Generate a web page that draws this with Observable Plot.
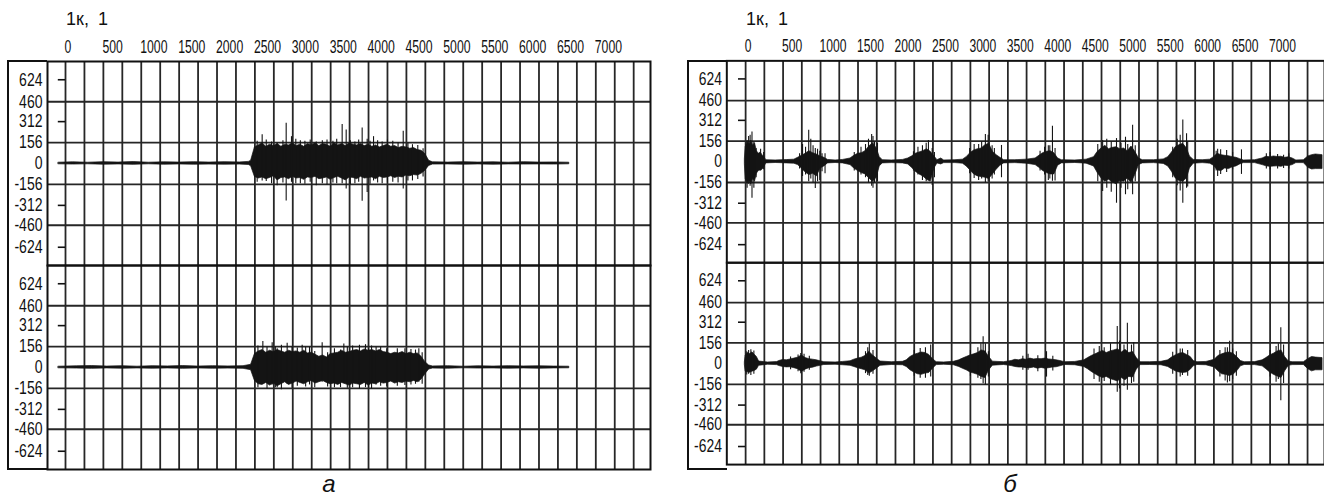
<!DOCTYPE html>
<html><head><meta charset="utf-8">
<script src="https://cdn.jsdelivr.net/npm/d3@7"></script>
<script src="https://cdn.jsdelivr.net/npm/@observablehq/plot@0.6"></script>
<style>
html,body{margin:0;padding:0;width:1324px;height:500px;overflow:hidden;background:#fff;}
#root{position:relative;width:1324px;height:500px;overflow:hidden;}
.panel{position:absolute;top:0;}
.col{position:absolute;top:60px;height:410px;width:40px;border:2px solid #111;border-right:none;box-sizing:border-box;}
.title{position:absolute;top:10px;line-height:18px;font-size:18px;font-family:"Liberation Sans",Arial,sans-serif;color:#111;word-spacing:4px;white-space:nowrap;}
.cap{position:absolute;top:472px;width:40px;text-align:center;font:italic 24px/24px "Liberation Sans",Arial,sans-serif;color:#111;}
</style>
</head><body>
<div id="root"></div>
<script>
// ---- labels / ticks ----
const chartTitle = "1к, 1";
const captions = ["а", "б"];
const xTickLabels = [0,500,1000,1500,2000,2500,3000,3500,4000,4500,5000,5500,6000,6500,7000];
const yTickLabels = [624,460,312,156,0,-156,-312,-460,-624];
const gridX = d3.range(0, 7501, 250);
const gridY = [460,156,-156,-460];
const yMinorTicks = [624,312,-312,-624];
const channels = ["1","2"];

// ---- panel а, channel 1 envelope [x, upper, lower] ----
const a1Env = [
[-90,6,-6],[100,9,-8],[300,6,-6],[500,10,-9],[700,7,-7],[900,11,-10],[1100,6,-6],[1300,9,-9],[1500,7,-7],[1700,10,-9],[1900,7,-8],[2100,10,-9],[2300,8,-8],[2420,12,-11],
[2450,20,-20],[2500,120,-100],[2550,135,-112],[2600,150,-104],[2650,125,-117],[2700,140,-108],[2750,130,-95],[2800,145,-126],[2850,125,-108],[2900,140,-104],[2950,135,-117],[3000,150,-99],[3050,130,-112],[3100,140,-108],[3150,125,-122],[3200,145,-104],[3250,135,-108],[3300,150,-99],[3350,130,-117],[3400,145,-112],[3450,140,-104],[3500,125,-122],[3550,150,-108],[3600,135,-99],[3650,145,-112],[3700,130,-126],[3750,150,-104],[3800,140,-108],[3850,135,-117],[3900,145,-99],[3950,130,-112],[4000,140,-108],[4050,125,-104],[4100,135,-117],[4150,120,-99],[4200,130,-108],[4250,140,-104],[4300,125,-95],[4350,130,-108],[4400,115,-99],[4450,125,-104],[4500,120,-90],[4550,110,-95],[4600,115,-86],[4650,100,-90],[4700,95,-77],[4750,70,-54],[4800,20,-18],
[4850,9,-8],[5050,7,-7],[5250,10,-9],[5450,7,-7],[5650,9,-9],[5850,6,-7],[6050,10,-8],[6250,7,-7],[6450,8,-8],[6650,6,-6]
];
const a1Spikes = [[2596,215,-130],[2794,150,-165],[2913,300,-280],[2983,200,-140],[3100,170,-150],[3452,175,-160],[3652,290,-150],[3705,250,-190],[3916,265,-281],[3982,180,-216],[4066,200,-130],[4250,175,-145],[4458,240,-190],
[2530,165,-140],[2650,175,-135],[2720,160,-150],[2870,170,-145],[3040,180,-150],[3160,165,-155],[3230,175,-140],[3310,160,-165],[3390,170,-150],[3530,165,-145],[3580,180,-150],[3760,170,-160],[3820,160,-150],[3870,175,-140],[4020,165,-155],[4120,170,-145],[4180,160,-150],[4320,165,-140],[4390,155,-145],[4520,150,-130],[4580,140,-130],[4650,135,-120],[4720,110,-100]];

// ---- panel а, channel 2 ----
const a2Env = [
[-90,6,-6],[150,9,-8],[350,11,-10],[550,7,-7],[750,10,-9],[950,6,-7],[1150,10,-9],[1350,8,-7],[1550,11,-10],[1750,7,-7],[1950,10,-9],[2150,8,-8],[2350,10,-10],
[2450,20,-20],[2500,100,-100],[2550,120,-125],[2600,130,-130],[2650,110,-115],[2700,125,-135],[2750,115,-120],[2800,130,-140],[2850,120,-125],[2900,110,-110],[2950,125,-130],[3000,115,-120],[3050,120,-105],[3100,110,-115],[3150,125,-125],[3200,105,-110],[3250,110,-100],[3300,95,-120],[3350,80,-110],[3400,90,-100],[3450,75,-115],[3500,100,-125],[3550,105,-120],[3600,110,-130],[3650,125,-115],[3700,110,-125],[3750,115,-135],[3800,125,-120],[3850,130,-125],[3900,120,-130],[3950,135,-115],[4000,125,-135],[4050,130,-120],[4100,120,-125],[4150,130,-110],[4200,115,-120],[4250,110,-115],[4300,100,-105],[4350,110,-120],[4400,105,-110],[4450,115,-115],[4500,100,-105],[4550,110,-110],[4600,100,-100],[4650,105,-110],[4700,80,-90],[4750,40,-50],[4800,15,-15],
[4850,8,-8],[5050,10,-9],[5250,6,-6],[5450,9,-8],[5650,7,-7],[5850,10,-9],[6050,8,-7],[6250,9,-9],[6450,7,-7],[6650,6,-6]
];
const a2Spikes = [[2605,194,-120],[2728,185,-130],[2794,140,-150],[2926,180,-125],[3124,165,-120],[3221,150,-130],[3388,185,-110],[3630,130,-150],[3674,175,-120],[4000,140,-150],[4100,150,-130],[4664,140,-110],[4708,110,-125],
[2540,160,-150],[2660,150,-160],[2770,155,-150],[2850,165,-165],[2990,150,-155],[3060,145,-140],[3170,150,-145],[3290,120,-150],[3460,110,-145],[3550,140,-150],[3720,150,-155],[3790,160,-150],[3880,165,-160],[3960,170,-150],[4040,160,-160],[4160,150,-140],[4240,140,-145],[4380,140,-140],[4480,140,-135],[4560,135,-130],[4620,130,-125]];

// ---- panel б, channel 1 ----
const b1Env = [
[-10,20,-20],[0,110,-130],[25,150,-160],[50,130,-145],[75,160,-170],[100,120,-130],[125,140,-150],[150,80,-90],[175,60,-70],[200,70,-65],[225,50,-60],[250,35,-40],[275,12,-12],
[400,10,-9],[550,13,-12],[650,16,-14],
[700,30,-25],[750,45,-50],[800,60,-80],[850,80,-100],[900,65,-90],[950,55,-110],[1000,40,-50],[1050,30,-35],[1100,14,-12],
[1200,10,-9],[1300,14,-12],
[1400,25,-25],[1450,45,-50],[1500,60,-70],[1550,65,-85],[1600,80,-95],[1650,115,-125],[1700,140,-150],[1750,100,-120],[1790,35,-35],[1830,12,-12],
[1950,10,-10],[2100,14,-12],
[2170,25,-20],[2220,40,-45],[2270,60,-75],[2320,70,-95],[2370,80,-110],[2420,95,-135],[2470,75,-150],[2520,40,-50],[2560,12,-12],[2610,25,-20],[2650,10,-10],
[2800,12,-10],[2900,16,-14],
[2950,35,-35],[3000,65,-65],[3050,85,-95],[3100,95,-110],[3150,100,-115],[3200,125,-120],[3250,135,-130],[3300,75,-95],[3350,50,-60],[3400,30,-30],[3450,12,-12],
[3600,12,-10],[3750,16,-14],
[3870,25,-25],[3920,45,-45],[3970,65,-70],[4020,75,-85],[4070,80,-95],[4120,65,-95],[4170,25,-30],[4220,12,-12],
[4400,10,-9],[4550,16,-14],
[4650,35,-35],[4700,75,-85],[4750,100,-125],[4800,120,-150],[4850,95,-135],[4900,105,-155],[4950,110,-170],[5000,95,-145],[5050,100,-150],[5100,80,-125],[5150,115,-160],[5200,75,-100],[5250,25,-25],[5300,12,-12],
[5450,12,-10],[5580,18,-16],
[5640,35,-35],[5690,70,-75],[5740,110,-125],[5790,125,-145],[5840,135,-150],[5890,100,-125],[5930,40,-50],[5980,14,-14],
[6100,12,-10],[6200,16,-14],
[6250,35,-30],[6300,60,-65],[6350,50,-70],[6400,45,-50],[6450,42,-55],[6500,35,-42],[6550,30,-35],[6600,20,-20],[6650,10,-10],
[6800,12,-10],
[6900,25,-25],[6950,38,-34],[7000,34,-38],[7050,40,-36],[7100,36,-34],[7150,38,-38],[7200,30,-30],[7250,34,-32],[7300,25,-25],[7350,10,-10],
[7450,12,-10],
[7510,40,-45],[7560,50,-58],[7610,55,-55],[7700,50,-55]
];
const b1Spikes = [[60,200,-185],[85,225,-274],[760,130,-110],[842,238,-150],[930,100,-202],[990,80,-140],[1060,60,-90],[1682,205,-184],[1720,150,-160],[2440,161,-130],[2490,100,-179],[3110,130,-140],[3200,205,-159],[3237,200,-150],[3415,123,-120],[4040,120,-140],[4095,268,-146],[4765,161,-223],[4950,175,-312],[5070,185,-248],[5165,276,-248],[5835,315,-312],[5885,212,-200],[6300,95,-110],[6618,90,-95],[7000,70,-60],[7250,60,-55],
[20,160,-200],[40,190,-170],[110,150,-200],[140,100,-120],[200,95,-70],[240,70,-60],
[720,60,-55],[800,110,-100],[870,170,-130],[900,120,-160],[960,95,-150],[1020,60,-75],
[1450,70,-70],[1540,110,-100],[1600,130,-120],[1640,170,-160],[1700,190,-200],[1760,140,-150],
[2240,75,-70],[2300,110,-100],[2360,120,-140],[2410,140,-150],[2520,70,-120],
[2990,100,-90],[3050,130,-125],[3150,150,-130],[3290,120,-130],[3320,100,-100],
[3930,80,-70],[3990,110,-100],[4060,120,-130],[4130,100,-145],
[4700,130,-150],[4820,170,-200],[4880,150,-230],[5010,140,-200],[5100,130,-210],[5200,120,-150],
[5700,110,-120],[5760,170,-180],[5800,200,-220],[5900,150,-190],
[6280,80,-70],[6340,90,-95],[6420,85,-80],[6500,70,-60],
[6950,60,-55],[7100,55,-55],[7180,50,-50]];

// ---- panel б, channel 2 ----
const b2Env = [
[-10,12,-12],[0,60,-60],[30,80,-65],[60,72,-68],[90,85,-60],[120,68,-55],[150,50,-45],[180,16,-16],
[300,9,-8],[420,12,-11],
[450,20,-18],[500,28,-25],[550,25,-28],[600,32,-27],[650,38,-34],[700,45,-42],[750,62,-62],[800,42,-45],[850,34,-34],[900,30,-30],[950,25,-22],[1000,18,-16],[1050,11,-10],
[1200,9,-8],[1300,13,-12],
[1400,18,-16],[1450,30,-25],[1500,38,-34],[1550,45,-42],[1600,58,-50],[1650,90,-75],[1700,62,-58],[1750,38,-38],[1800,16,-16],
[1950,11,-10],[2100,14,-12],
[2150,25,-25],[2200,50,-50],[2250,66,-66],[2300,75,-80],[2350,84,-84],[2400,80,-75],[2450,66,-70],[2500,34,-38],[2550,11,-11],
[2650,9,-8],[2780,14,-12],
[2850,25,-25],[2900,38,-38],[2950,50,-50],[3000,62,-66],[3050,70,-75],[3100,80,-84],[3150,100,-100],[3200,92,-108],[3250,50,-50],[3300,15,-15],
[3450,11,-10],
[3550,20,-18],[3600,29,-25],[3650,25,-29],[3700,34,-29],[3750,29,-34],[3800,38,-34],[3850,32,-29],[3900,35,-38],[3950,34,-32],[4000,38,-38],[4050,32,-34],[4100,29,-29],[4150,25,-27],[4200,20,-20],[4260,11,-10],
[4400,13,-12],
[4520,25,-25],[4570,42,-42],[4620,58,-62],[4670,70,-80],[4720,84,-96],[4770,96,-108],[4820,80,-100],[4870,92,-116],[4920,100,-125],[4970,108,-134],[5020,84,-108],[5070,104,-125],[5120,80,-100],[5170,88,-104],[5220,42,-46],[5270,11,-11],
[5400,11,-10],[5550,14,-12],
[5640,25,-25],[5690,46,-42],[5740,62,-58],[5790,75,-66],[5840,80,-70],[5890,66,-66],[5940,50,-46],[5980,20,-20],[6030,11,-10],
[6150,13,-12],
[6260,29,-29],[6310,58,-58],[6360,70,-80],[6410,80,-84],[6460,84,-92],[6510,75,-84],[6560,50,-58],[6610,20,-20],[6660,11,-10],
[6800,12,-11],
[6900,25,-20],[6950,42,-42],[7000,62,-66],[7050,75,-84],[7100,92,-96],[7150,100,-108],[7200,50,-58],[7250,16,-16],[7300,11,-11],
[7450,11,-10],
[7510,35,-42],[7560,50,-58],[7610,46,-50],[7700,42,-50]
];
const b2Spikes = [[40,100,-80],[736,76,-76],[1651,150,-94],[2470,140,-100],[3140,150,-120],[3170,202,-152],[3770,70,-50],[4016,90,-101],[4786,120,-134],[4960,280,-216],[5095,304,-200],[5180,160,-140],[5830,110,-90],[6430,120,-145],[6460,169,-136],[7110,150,-120],[7143,271,-279],
[15,90,-85],[70,105,-90],[110,95,-80],
[600,50,-45],[700,65,-60],[780,70,-65],[850,55,-50],
[1600,90,-75],[1700,100,-80],[1630,120,-90],
[2250,100,-95],[2330,115,-110],[2400,120,-110],
[3000,100,-95],[3100,120,-110],[3200,150,-160],[3240,90,-100],
[3700,55,-50],[3900,60,-60],[4100,55,-55],
[4650,110,-120],[4720,130,-140],[4870,150,-160],[4990,170,-190],[5050,140,-170],[5150,140,-150],
[5700,85,-80],[5800,110,-100],[5900,100,-95],
[6330,100,-100],[6400,120,-130],[6500,110,-120],[6550,90,-95],
[7000,100,-100],[7080,130,-140],[7180,140,-150]];

// ---- drawing ----
const ink = "#141414";
const FONT = '"Liberation Sans",Arial,sans-serif';
const tickLen = 95; // sample units of the short level marks

function rows(env1, env2) {
  return [
    ...env1.map(d => ({x: d[0], hi: d[1], lo: d[2], ch: channels[0]})),
    ...env2.map(d => ({x: d[0], hi: d[1], lo: d[2], ch: channels[1]}))
  ];
}

function panel(env1, env2, sp1, sp2, o) {
  const env = rows(env1, env2);
  const sp = rows(sp1, sp2);
  return Plot.plot({
    width: o.width, height: 500,
    marginTop: 61, marginBottom: 31, marginLeft: o.ml, marginRight: o.mr,
    x: {domain: o.xDomain},
    y: {domain: [-760, 760]},
    fy: {domain: channels, padding: 0, axis: null},
    style: {fontFamily: FONT, color: "#111", background: "transparent", overflow: "visible"},
    marks: [
      Plot.ruleX(gridX, {stroke: "#262626", strokeWidth: 1.8}),
      Plot.ruleY(gridY, {stroke: "#262626", strokeWidth: 1.8}),
      Plot.ruleY(yMinorTicks, {x1: -tickLen, x2: 0, stroke: "#111", strokeWidth: 1.6}),
      Plot.areaY(env, {x: "x", y1: "lo", y2: "hi", fy: "ch", fill: ink, stroke: ink, strokeWidth: 0.7}),
      Plot.ruleX(sp, {x: "x", y1: "lo", y2: "hi", fy: "ch", stroke: ink, strokeWidth: 1.1}),
      Plot.frame({stroke: "#111", strokeWidth: 2}),
      Plot.axisX(xTickLabels, {anchor: "top", tickSize: 0, tickPadding: 9, textAnchor: "start", dx: -1, label: null, fontSize: 18, tickFormat: d => String(d)}),
      Plot.axisY(yTickLabels, {anchor: "left", tickSize: 0, tickPadding: 5, label: null, fontSize: 18, tickFormat: d => String(d)})
    ]
  });
}

// condense the tick label glyphs like the narrow face of the original
function condense(svg) {
  svg.querySelectorAll('g[aria-label="x-axis tick label"] text').forEach(t => {
    const w = t.getComputedTextLength();
    t.setAttribute("textLength", (w * 0.68).toFixed(1));
    t.setAttribute("lengthAdjust", "spacingAndGlyphs");
  });
  svg.querySelectorAll('g[aria-label="y-axis tick label"] text').forEach(t => {
    const w = t.getComputedTextLength();
    t.setAttribute("textLength", (w * 0.78).toFixed(1));
    t.setAttribute("lengthAdjust", "spacingAndGlyphs");
  });
}

const root = document.getElementById("root");
function add(el, cls, left) {
  const w = document.createElement("div");
  w.className = cls; w.style.left = left + "px";
  if (el) w.appendChild(el);
  root.appendChild(w);
  return w;
}
const svgA = panel(a1Env, a2Env, a1Spikes, a2Spikes, {width: 652, ml: 47, mr: 2, xDomain: [-237.6, 7722]});
const svgB = panel(b1Env, b2Env, b1Spikes, b2Spikes, {width: 669, ml: 65, mr: 0, xDomain: [-251, 7726]});
add(svgA, "panel", 0);
add(svgB, "panel", 662);
condense(svgA); condense(svgB);
add(null, "col", 7);
add(null, "col", 687);
add(null, "title", 66).textContent = chartTitle;
add(null, "title", 746).textContent = chartTitle;
add(null, "cap", 309).textContent = captions[0];
add(null, "cap", 990).textContent = captions[1];
</script>
</body></html>
